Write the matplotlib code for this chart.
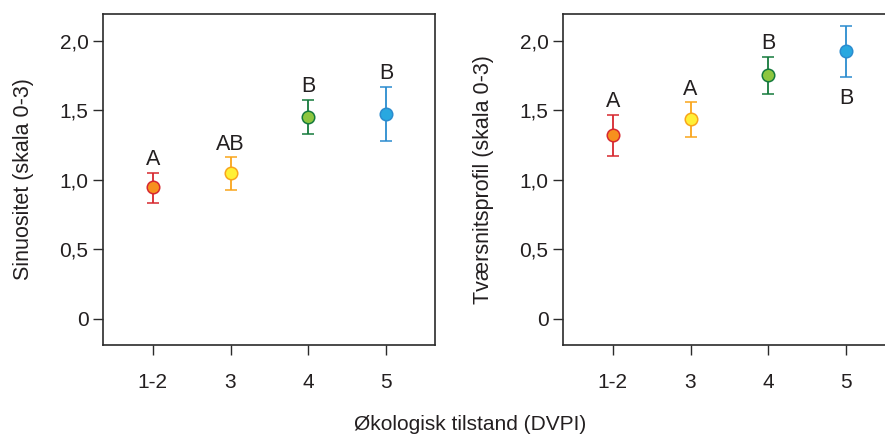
import matplotlib.pyplot as plt
from matplotlib.ticker import FixedLocator, FixedFormatter

plt.rcParams['font.family'] = ['Liberation Sans', 'DejaVu Sans']

# categories (ecological status, DVPI)
categories = ["1-2", "3", "4", "5"]

# Sinuositet: mean and error bar ends
sin_mean = [0.95, 1.047, 1.455, 1.477]
sin_low = [0.837, 0.928, 1.333, 1.281]
sin_high = [1.053, 1.163, 1.578, 1.671]
sin_letters = ["A", "AB", "B", "B"]
sin_letter_above = [True, True, True, True]

# Tværsnitsprofil: mean and error bar ends
tv_mean = [1.32, 1.436, 1.755, 1.928]
tv_low = [1.17, 1.309, 1.617, 1.741]
tv_high = [1.47, 1.558, 1.887, 2.11]
tv_letters = ["A", "A", "B", "B"]
tv_letter_above = [True, True, True, False]

yticks = [0, 0.5, 1.0, 1.5, 2.0]
ytick_labels = ["0", "0,5", "1,0", "1,5", "2,0"]

fill_colors = ["#f7901e", "#fff036", "#8dc63f", "#29a8e0"]
edge_colors = ["#d7282f", "#f9a51b", "#157a3c", "#2b8ccf"]
text_color = "#231f20"
spine_color = "#2b2b2b"


def draw_panel(ax, mean, low, high, letters, above, ylabel):
    for i in range(len(categories)):
        yerr = [[mean[i] - low[i]], [high[i] - mean[i]]]
        ax.errorbar([i], [mean[i]], yerr=yerr, fmt="o", ms=9,
                    mfc=fill_colors[i], mec=edge_colors[i], mew=1.1,
                    ecolor=edge_colors[i], elinewidth=1.3, capsize=4.3,
                    capthick=1.3, zorder=3)
        if above[i]:
            ax.annotate(letters[i], (i, high[i]), xytext=(0, 2),
                        textcoords="offset points", ha="center", va="bottom",
                        fontsize=15.5, color=text_color)
        else:
            ax.annotate(letters[i], (i, low[i]), xytext=(0, -8),
                        textcoords="offset points", ha="center", va="top",
                        fontsize=15.5, color=text_color)

    ax.set_xlim(-0.64, 3.63)
    ax.set_ylim(-0.187, 2.194)
    ax.set_xticks(range(len(categories)))
    ax.set_xticklabels(categories)
    ax.yaxis.set_major_locator(FixedLocator(yticks))
    ax.yaxis.set_major_formatter(FixedFormatter(ytick_labels))
    ax.tick_params(axis="both", direction="out", length=7.5, width=1.0,
                   colors=spine_color, labelcolor=text_color, labelsize=15)
    ax.tick_params(axis="x", pad=13)
    ax.tick_params(axis="y", pad=3)
    for sp in ax.spines.values():
        sp.set_color(spine_color)
        sp.set_linewidth(1.2)
    ax.set_ylabel(ylabel, fontsize=15.5, color=text_color, labelpad=18)


fig = plt.figure(figsize=(8.85, 4.34), dpi=100)
ax1 = fig.add_axes([0.1164, 0.2051, 0.3751, 0.7627])
ax2 = fig.add_axes([0.6362, 0.2051, 0.3751, 0.7627])

draw_panel(ax1, sin_mean, sin_low, sin_high, sin_letters, sin_letter_above,
           "Sinuositet (skala 0-3)")
draw_panel(ax2, tv_mean, tv_low, tv_high, tv_letters, tv_letter_above,
           "Tværsnitsprofil (skala 0-3)")

fig.text(0.531, 0.022, "Økologisk tilstand (DVPI)", ha="center", va="center",
         fontsize=15, color=text_color)

fig.savefig("out.png", dpi=100)
